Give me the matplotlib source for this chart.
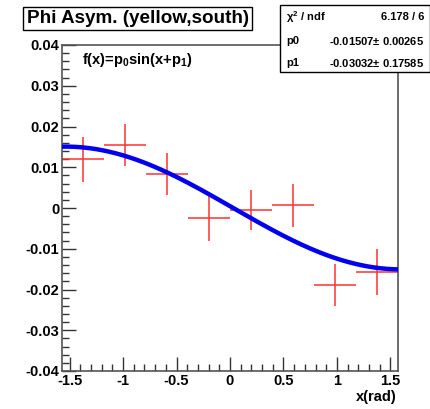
import numpy as np
import matplotlib
matplotlib.use("Agg")
import matplotlib.pyplot as plt
from matplotlib.patches import Rectangle
from matplotlib.ticker import MultipleLocator

plt.rcParams['font.family'] = ['Liberation Sans', 'DejaVu Sans']
plt.rcParams['mathtext.fontset'] = 'custom'
plt.rcParams['mathtext.rm'] = 'Liberation Sans:bold'
plt.rcParams['mathtext.bf'] = 'Liberation Sans:bold'
plt.rcParams['mathtext.it'] = 'Liberation Sans:bold'

# data: 8 bins over [-pi/2, pi/2]
x_centers = [-1.374, -0.982, -0.589, -0.196, 0.196, 0.589, 0.982, 1.374]
x_halfwidth = [0.196] * 8
asym = [0.0120, 0.0155, 0.0084, -0.0025, -0.0005, 0.0007, -0.0189, -0.0157]
asym_err = [0.0055, 0.0052, 0.0052, 0.0056, 0.0050, 0.0053, 0.0052, 0.0057]

# fit results
p0 = -0.01507
p1 = -0.03032
chi2_ndf = "6.178 / 6"
p0_txt = "-0.01507$\\pm$ 0.00265"
p1_txt = "-0.03032$\\pm$ 0.17585"

W, H = 431, 409
fig = plt.figure(figsize=(W / 100, H / 100), dpi=100)
fig.patch.set_facecolor('white')

ax = fig.add_axes([62 / W, 1 - 371 / H, (398 - 62) / W, (371 - 45) / H])
xmin, xmax = -np.pi / 2, np.pi / 2
ax.set_xlim(xmin, xmax)
ax.set_ylim(-0.04, 0.04)

ax.errorbar(x_centers, asym, xerr=x_halfwidth, yerr=asym_err, fmt='none',
            ecolor='#ff3030', elinewidth=1.1, capsize=0, zorder=2)

xf = np.linspace(xmin, xmax, 300)
ax.plot(xf, p0 * np.sin(xf + p1), color='#0000ee', lw=3.2, zorder=3)

for s in ax.spines.values():
    s.set_color('#555555')
    s.set_linewidth(1.2)

ax.xaxis.set_major_locator(MultipleLocator(0.5))
ax.xaxis.set_minor_locator(MultipleLocator(0.1))
ax.yaxis.set_major_locator(MultipleLocator(0.01))
ax.yaxis.set_minor_locator(MultipleLocator(0.002))
ax.tick_params(which='both', direction='in', top=False, right=False,
               color='#333333', width=1)
ax.tick_params(which='major', length=10, labelsize=10.5, pad=2)
ax.tick_params(which='minor', length=5)
ax.set_xticks([-1.5, -1, -0.5, 0, 0.5, 1, 1.5])
ax.set_xticklabels(['-1.5', '-1', '-0.5', '0', '0.5', '1', '1.5'], fontweight='bold')
ax.set_yticks([-0.04, -0.03, -0.02, -0.01, 0, 0.01, 0.02, 0.03, 0.04])
ax.set_yticklabels(['-0.04', '-0.03', '-0.02', '-0.01', '0', '0.01', '0.02', '0.03', '0.04'],
                   fontweight='bold')

fig.text(397 / W, 1 - 397 / H, 'x(rad)', ha='right', va='center',
         fontsize=10.5, fontweight='bold')
fig.text(82 / W, 1 - 60 / H, r'f(x)=p$_{\mathbf{0}}$sin(x+p$_{\mathbf{1}}$)',
         ha='left', va='center', fontsize=10.5, fontweight='bold')

# title box
fig.patches.append(Rectangle((23 / W, 1 - 30 / H), (252 - 23) / W, 23 / H,
                             transform=fig.transFigure, facecolor='white',
                             edgecolor='black', lw=1, zorder=5))
fig.text(138 / W, 1 - 18.5 / H, 'Phi Asym. (yellow,south)', ha='center', va='center',
         fontsize=13.6, fontweight='bold', zorder=6)

# stats box
fig.patches.append(Rectangle((280 / W, 1 - 72 / H), (430 - 280) / W, 67 / H,
                             transform=fig.transFigure, facecolor='white',
                             edgecolor='black', lw=1, zorder=5))
rows = [(r'$\chi^{2}$ / ndf', chi2_ndf), ('p0', p0_txt), ('p1', p1_txt)]
for (lab, val), yy in zip(rows, [17, 41, 63]):
    fig.text(286 / W, 1 - yy / H, lab, ha='left', va='center', fontsize=8,
             fontweight='bold', zorder=6)
    fig.text(424 / W, 1 - yy / H, val, ha='right', va='center', fontsize=8,
             fontweight='bold', zorder=6)

fig.savefig('out.png', dpi=100)
